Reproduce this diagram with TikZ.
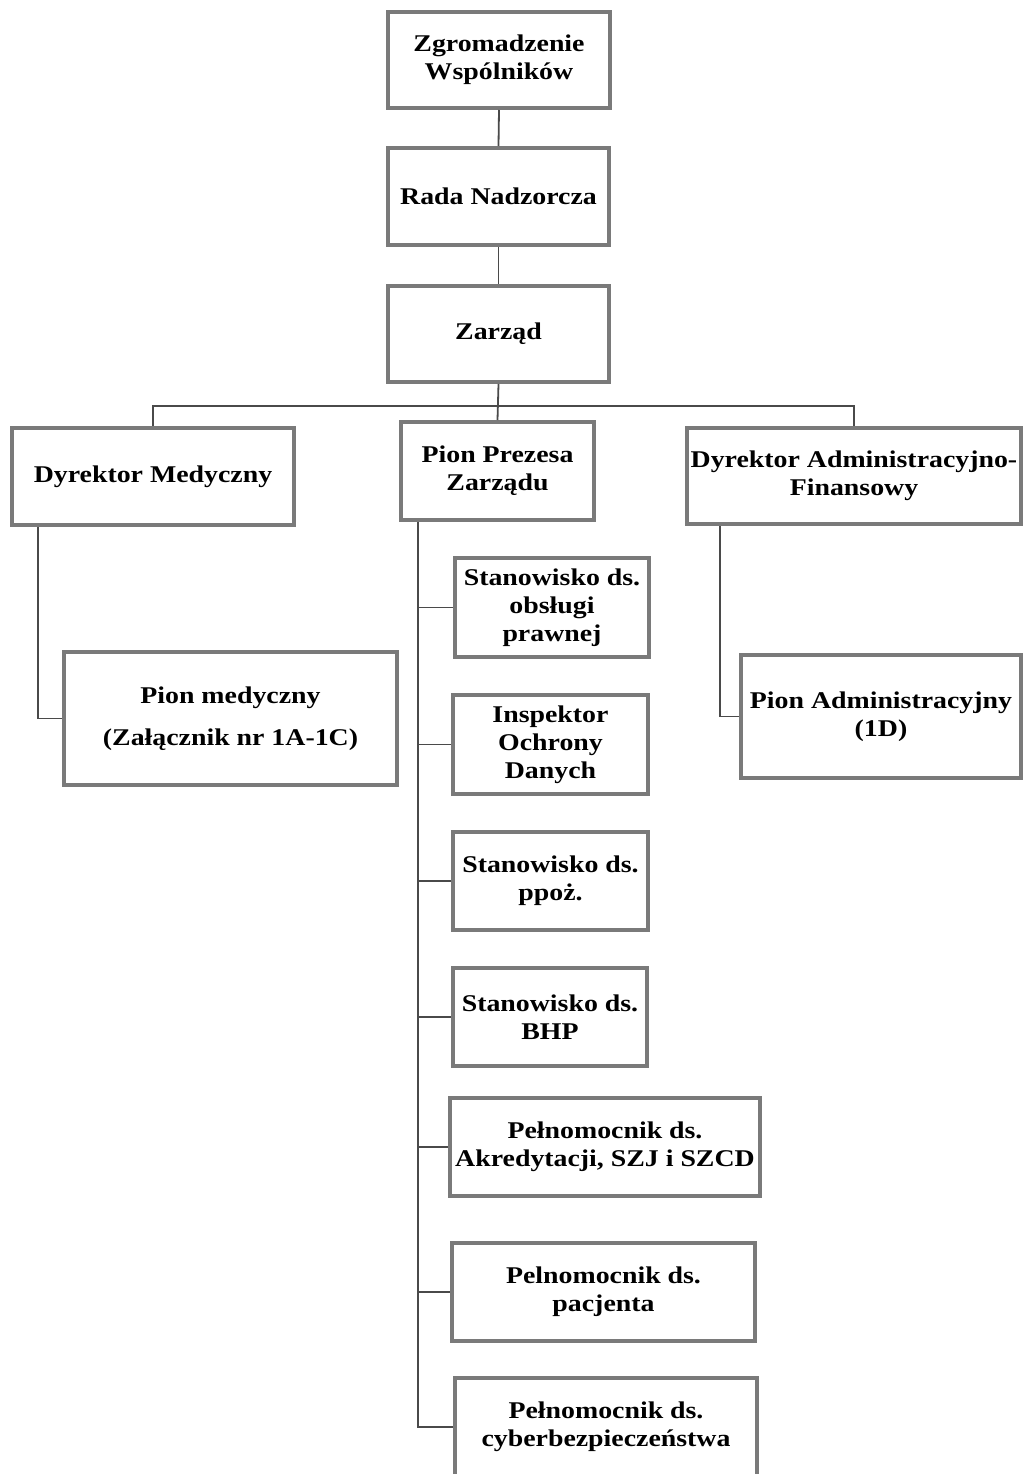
\documentclass[tikz,border=0pt]{standalone}
\usepackage{fontspec}
\setmainfont{Liberation Serif}[FakeStretch=1.16]
\usetikzlibrary{calc}
\definecolor{boxgray}{HTML}{7A7A7A}
\definecolor{linegray}{HTML}{4A4A4A}
\tikzset{orgbox/.style={draw=boxgray, line width=4pt, fill=white, inner sep=0pt, align=center,
    font=\fontsize{24}{28}\selectfont\bfseries, text=black},
  link/.style={draw=linegray, line width=1.8pt}}

\begin{document}
\begin{tikzpicture}[x=1pt,y=-1pt]
  \useasboundingbox[fill=white] (0,0) rectangle (1023,1474);
  % top of the chart
  \node[orgbox, minimum width=222, minimum height=96] (zgr) at (499,60) {Zgromadzenie\\Wspólników};
  \node[orgbox, minimum width=221, minimum height=97] (rada) at (498.5,196.5) {Rada Nadzorcza};
  \node[orgbox, minimum width=221, minimum height=96] (zarzad) at (498.5,334) {Zarząd};
  % second row
  \node[orgbox, minimum width=282, minimum height=97] (dmed) at (153,476.5) {Dyrektor Medyczny};
  \node[orgbox, minimum width=193, minimum height=98] (prezes) at (497.5,471) {Pion Prezesa\\Zarządu};
  \node[orgbox, minimum width=334, minimum height=96] (dadm) at (854,476) {Dyrektor Administracyjno-\\Finansowy};
  \node[orgbox, minimum width=333, minimum height=133] (pmed) at (230.5,718.5) {Pion medyczny\\[14pt](Załącznik nr 1A-1C)};
  \node[orgbox, minimum width=280, minimum height=123] (padm) at (881,716.5) {Pion Administracyjny\\(1D)};
  % posts under the president
  \node[orgbox, minimum width=194, minimum height=99] (s1) at (552,607.5) {Stanowisko ds.\\obsługi\\prawnej};
  \node[orgbox, minimum width=195, minimum height=99] (s2) at (550.5,744.5) {Inspektor\\Ochrony\\Danych};
  \node[orgbox, minimum width=195, minimum height=98] (s3) at (550.5,881) {Stanowisko ds.\\ppoż.};
  \node[orgbox, minimum width=194, minimum height=98] (s4) at (550,1017) {Stanowisko ds.\\BHP};
  \node[orgbox, minimum width=310, minimum height=98] (s5) at (605,1147) {Pełnomocnik ds.\\Akredytacji, SZJ i SZCD};
  \node[orgbox, minimum width=303, minimum height=98] (s6) at (603.5,1292) {Pelnomocnik ds.\\pacjenta};
  \node[orgbox, minimum width=302, minimum height=98] (s7) at (606,1427) {Pełnomocnik ds.\\cyberbezpieczeństwa};

  \draw[link] (zgr.south) -- (rada.north);
  \draw[link] (rada.south) -- (zarzad.north);
  \draw[link] (zarzad.south) -- (prezes.north);
  \draw[link] (dmed.north) -- ++(0,-20) -| (dadm.north);
  \draw[link] ([xshift=28pt]dmed.south west) |- (pmed.west);
  \draw[link] ([xshift=35pt]dadm.south west) |- (padm.west);
  \coordinate (spine) at ([xshift=19pt]prezes.south west);
  \draw[link] (spine) |- (s7.west);
  \foreach \n in {s1,s2,s3,s4,s5,s6}
    \draw[link] (spine |- \n.west) -- (\n.west);
\end{tikzpicture}
\end{document}
